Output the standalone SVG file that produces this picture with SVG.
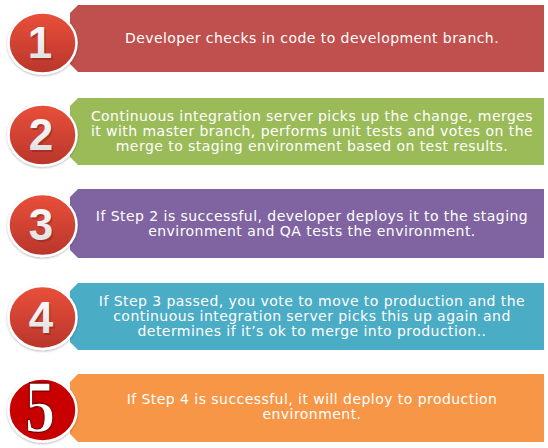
<svg xmlns="http://www.w3.org/2000/svg" width="548" height="448" viewBox="0 0 548 448">
  <defs>
    <linearGradient id="redGrad" x1="0" y1="0" x2="0" y2="1">
      <stop offset="0" stop-color="#e9503a"/>
      <stop offset="1" stop-color="#b9352b"/>
    </linearGradient>
    <linearGradient id="digitGrad" x1="0" y1="0" x2="0" y2="1">
      <stop offset="0" stop-color="#ffffff"/>
      <stop offset="1" stop-color="#dcdcdc"/>
    </linearGradient>
    <filter id="ringShadow" x="-20%" y="-20%" width="140%" height="140%">
      <feDropShadow dx="0" dy="1" stdDeviation="1" flood-color="#000" flood-opacity="0.3"/>
    </filter>
  </defs>
  <style>
    .txt { font-family: "DejaVu Sans", Verdana, sans-serif; font-size: 14px; letter-spacing: 0.45px; fill: #ffffff; text-anchor: middle; }
    .badge { fill: url(#redGrad); stroke: #ffffff; stroke-width: 2.5; filter: url(#ringShadow); }
    .digit { font-family: 'Liberation Sans', sans-serif; font-weight: 700; font-size: 44px; fill: url(#digitGrad); text-anchor: middle; }
    .dshadow { font-family: 'Liberation Sans', sans-serif; font-weight: 700; font-size: 44px; fill: #7a241a; fill-opacity: 0.45; text-anchor: middle; }
  </style>
  <rect x="0" y="0" width="548" height="448" fill="#ffffff"/>

  <g id="step1">
    <path d="M78,5 L544,5 L544,72 L78,72 L70,64 L70,13 Z" fill="#c0504d"/>
    <ellipse class="badge" cx="42.5" cy="43" rx="34" ry="30.5"/>
    <text class="dshadow" x="41.5" y="59.5">1</text>
    <text class="digit" x="40" y="58">1</text>
    <text class="txt" x="312" y="43">Developer checks in code to development branch.</text>
  </g>

  <g id="step2">
    <path d="M78,98 L544,98 L544,165 L78,165 L70,157 L70,106 Z" fill="#9bbb59"/>
    <ellipse class="badge" cx="42.5" cy="135" rx="34" ry="30.5"/>
    <text class="dshadow" x="42.5" y="151.5">2</text>
    <text class="digit" x="41" y="150">2</text>
    <text class="txt" x="312" y="121">Continuous integration server picks up the change, merges</text>
    <text class="txt" x="312" y="136">it with master branch, performs unit tests and votes on the</text>
    <text class="txt" x="312" y="151">merge to staging environment based on test results.</text>
  </g>

  <g id="step3">
    <path d="M78,189 L544,189 L544,258 L78,258 L70,250 L70,197 Z" fill="#8064a2"/>
    <ellipse class="badge" cx="42.5" cy="225" rx="34" ry="31"/>
    <text class="dshadow" x="42.5" y="241.5">3</text>
    <text class="digit" x="41" y="240">3</text>
    <text class="txt" x="312" y="220.5">If Step 2 is successful, developer deploys it to the staging</text>
    <text class="txt" x="312" y="235.5">environment and QA tests the environment.</text>
  </g>

  <g id="step4">
    <path d="M78,283 L544,283 L544,350 L78,350 L70,342 L70,291 Z" fill="#4bacc6"/>
    <ellipse class="badge" cx="42.5" cy="317.5" rx="34" ry="31.5"/>
    <text class="dshadow" x="42.5" y="334.5">4</text>
    <text class="digit" x="41" y="333">4</text>
    <text class="txt" x="312" y="306">If Step 3 passed, you vote to move to production and the</text>
    <text class="txt" x="312" y="321">continuous integration server picks this up again and</text>
    <text class="txt" x="312" y="336">determines if it’s ok to merge into production..</text>
  </g>

  <g id="step5">
    <path d="M78,374 L544,374 L544,442 L78,442 L70,434 L70,382 Z" fill="#f79646"/>
    <ellipse cx="42.5" cy="410" rx="34" ry="31.5" fill="#c80000" stroke="#ffffff" stroke-width="2.5" filter="url(#ringShadow)"/>
    <text x="40" y="0" transform="translate(0,432) scale(1,1.25)" font-family="'Liberation Serif', 'Times New Roman', serif" font-weight="bold" font-size="60" fill="#ffffff" stroke="#7a0000" stroke-width="1" text-anchor="middle">5</text>
    <text class="txt" x="312" y="404">If Step 4 is successful, it will deploy to production</text>
    <text class="txt" x="312" y="419">environment.</text>
  </g>
</svg>
